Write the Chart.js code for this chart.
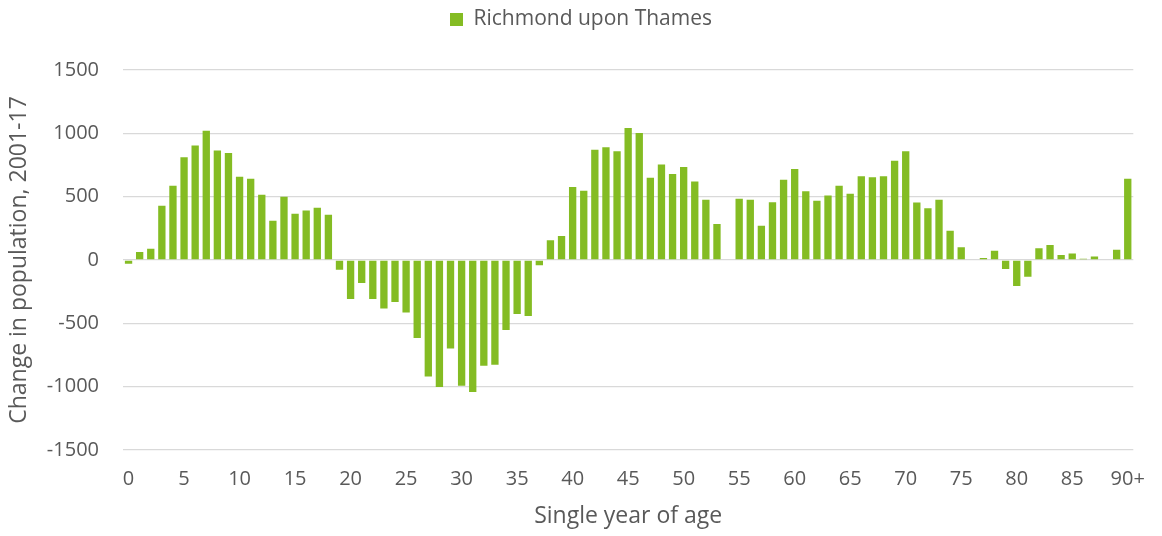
<!DOCTYPE html>
<html>
<head>
<meta charset="utf-8">
<script src="https://cdn.jsdelivr.net/npm/chart.js@4.4.0/dist/chart.umd.min.js"></script>
<style>
  html, body { margin: 0; padding: 0; background: #fff; }
  #wrap { width: 1162px; height: 536px; }
</style>
</head>
<body>
<div id="wrap"><canvas id="ageChart"></canvas></div>
<script>
// Edades 0..89 y 90+
const ages = [];
for (let i = 0; i < 90; i++) ages.push(String(i));
ages.push('90+');

const seriesName = 'Richmond upon Thames';

// Cambio de poblacion 2001-17
const popChange = [
  -30, 63, 89, 429, 587, 811, 903, 1021, 864, 845,
  658, 642, 516, 310, 500, 366, 390, 413, 358, -77,
  -308, -182, -308, -382, -332, -414, -616, -919, -1003, -698,
  -993, -1043, -835, -827, -553, -427, -442, -42, 155, 190,
  577, 547, 871, 890, 858, 1043, 1003, 650, 753, 679,
  735, 619, 476, 284, 0, 484, 476, 271, 455, 634,
  719, 542, 468, 510, 587, 524, 661, 653, 661, 784,
  858, 453, 408, 476, 231, 100, -5, 16, 73, -71,
  -205, -132, 92, 118, 40, 52, 10, 28, 0, 81,
  642
];

const yTicks = [-1500, -1000, -500, 0, 500, 1000, 1500];

const textColor = '#595959';
const fontFamily = '"Open Sans", "Noto Sans", sans-serif';

// Altura fija de la leyenda, centrada en todo el ancho
const legendHeight = {
  id: 'legendHeight',
  beforeInit(chart) {
    const fitOrig = chart.legend.fit;
    chart.legend.fit = function() {
      fitOrig.bind(chart.legend)();
      this.height = 70;
    };
  },
  afterLayout(chart) {
    chart.legend.right = chart.width;
  }
};

new Chart(document.getElementById('ageChart'), {
  type: 'bar',
  data: {
    labels: ages,
    datasets: [{
      label: seriesName,
      data: popChange,
      backgroundColor: '#84bc23',
      borderWidth: 0,
      categoryPercentage: 1,
      barPercentage: 0.66
    }]
  },
  options: {
    responsive: true,
    maintainAspectRatio: false,
    animation: false,
    layout: { padding: { left: 0, right: 17, top: 0, bottom: 0 } },
    plugins: {
      tooltip: { enabled: false },
      legend: {
        position: 'top',
        labels: {
          boxWidth: 13,
          boxHeight: 13,
          padding: 9,
          color: textColor,
          font: { family: fontFamily, size: 21 }
        }
      }
    },
    scales: {
      x: {
        grid: { display: false, drawTicks: false },
        border: { display: false },
        ticks: {
          autoSkip: false,
          maxRotation: 0,
          padding: 17,
          color: textColor,
          font: { family: fontFamily, size: 20 },
          callback: function(val, i) {
            return i % 5 === 0 ? ages[i] : '';
          }
        },
        title: {
          display: true,
          text: 'Single year of age',
          color: textColor,
          font: { family: fontFamily, size: 23 },
          padding: { top: 4, bottom: 6 }
        },
        afterFit: function(scale) { scale.height = 86; }
      },
      y: {
        min: -1500,
        max: 1500,
        afterBuildTicks: function(scale) {
          scale.ticks = yTicks.map(v => ({ value: v }));
        },
        grid: { color: '#d9d9d9', lineWidth: 1.3, drawTicks: false },
        border: { display: false },
        ticks: {
          padding: 24,
          color: textColor,
          font: { family: fontFamily, size: 20 },
          callback: function(v) { return String(v); }
        },
        title: {
          display: true,
          text: 'Change in population, 2001-17',
          color: textColor,
          font: { family: fontFamily, size: 23 },
          padding: { top: 6, bottom: 0 }
        },
        afterFit: function(scale) { scale.width = 123; }
      }
    }
  },
  plugins: [legendHeight]
});
</script>
</body>
</html>
